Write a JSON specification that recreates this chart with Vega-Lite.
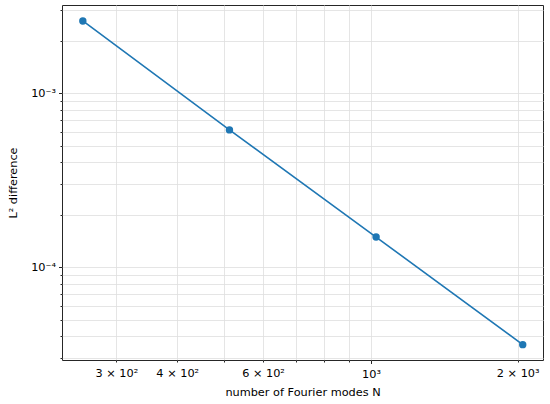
{
  "$schema": "https://vega.github.io/schema/vega-lite/v6.json",
  "autosize": "none",
  "width": 481,
  "height": 355,
  "padding": {"left": 62, "top": 5, "right": 7, "bottom": 44},
  "background": "white",
  "config": {
    "view": {"stroke": "#262626", "strokeWidth": 1},
    "font": "DejaVu Sans",
    "axis": {
      "domain": false,
      "gridColor": "#dedede",
      "gridWidth": 0.8,
      "tickColor": "#262626",
      "labelFont": "DejaVu Sans",
      "labelFontSize": 11.3,
      "labelColor": "#000000",
      "titleFont": "DejaVu Sans",
      "titleFontSize": 11.3,
      "titleFontWeight": "normal",
      "titleColor": "#000000"
    }
  },
  "data": {
    "values": [
      {"N": 256, "err": 0.0026},
      {"N": 512, "err": 0.000615},
      {"N": 1024, "err": 0.000149},
      {"N": 2048, "err": 0.0000359}
    ]
  },
  "mark": {
    "type": "line",
    "color": "#1f77b4",
    "strokeWidth": 1.6,
    "point": {"filled": true, "size": 55, "color": "#1f77b4", "opacity": 1}
  },
  "encoding": {
    "x": {
      "field": "N",
      "type": "quantitative",
      "scale": {"type": "log", "domain": [232, 2254], "nice": false},
      "axis": {
        "title": "number of Fourier modes N",
        "titlePadding": 7,
        "values": [300, 400, 500, 600, 700, 800, 900, 1000, 2000],
        "labelExpr": "datum.value == 300 ? '3 × 10²' : datum.value == 400 ? '4 × 10²' : datum.value == 600 ? '6 × 10²' : datum.value == 1000 ? '10³' : datum.value == 2000 ? '2 × 10³' : ''",
        "labelPadding": 5,
        "tickSize": {"condition": {"test": "datum.value == 1000", "value": 3.5}, "value": 2}
      }
    },
    "y": {
      "field": "err",
      "type": "quantitative",
      "scale": {"type": "log", "domain": [0.0000293, 0.00321], "nice": false},
      "axis": {
        "title": "L² difference",
        "titlePadding": 12,
        "values": [0.00003, 0.00004, 0.00005, 0.00006, 0.00007, 0.00008, 0.00009, 0.0001, 0.0002, 0.0003, 0.0004, 0.0005, 0.0006, 0.0007, 0.0008, 0.0009, 0.001, 0.002, 0.003],
        "labelExpr": "abs(datum.value - 0.001) < 1e-9 ? '10⁻³' : abs(datum.value - 0.0001) < 1e-10 ? '10⁻⁴' : ''",
        "labelPadding": 3,
        "tickSize": {"condition": {"test": "abs(datum.value - 0.001) < 1e-9 || abs(datum.value - 0.0001) < 1e-10", "value": 3.5}, "value": 2}
      }
    }
  }
}
